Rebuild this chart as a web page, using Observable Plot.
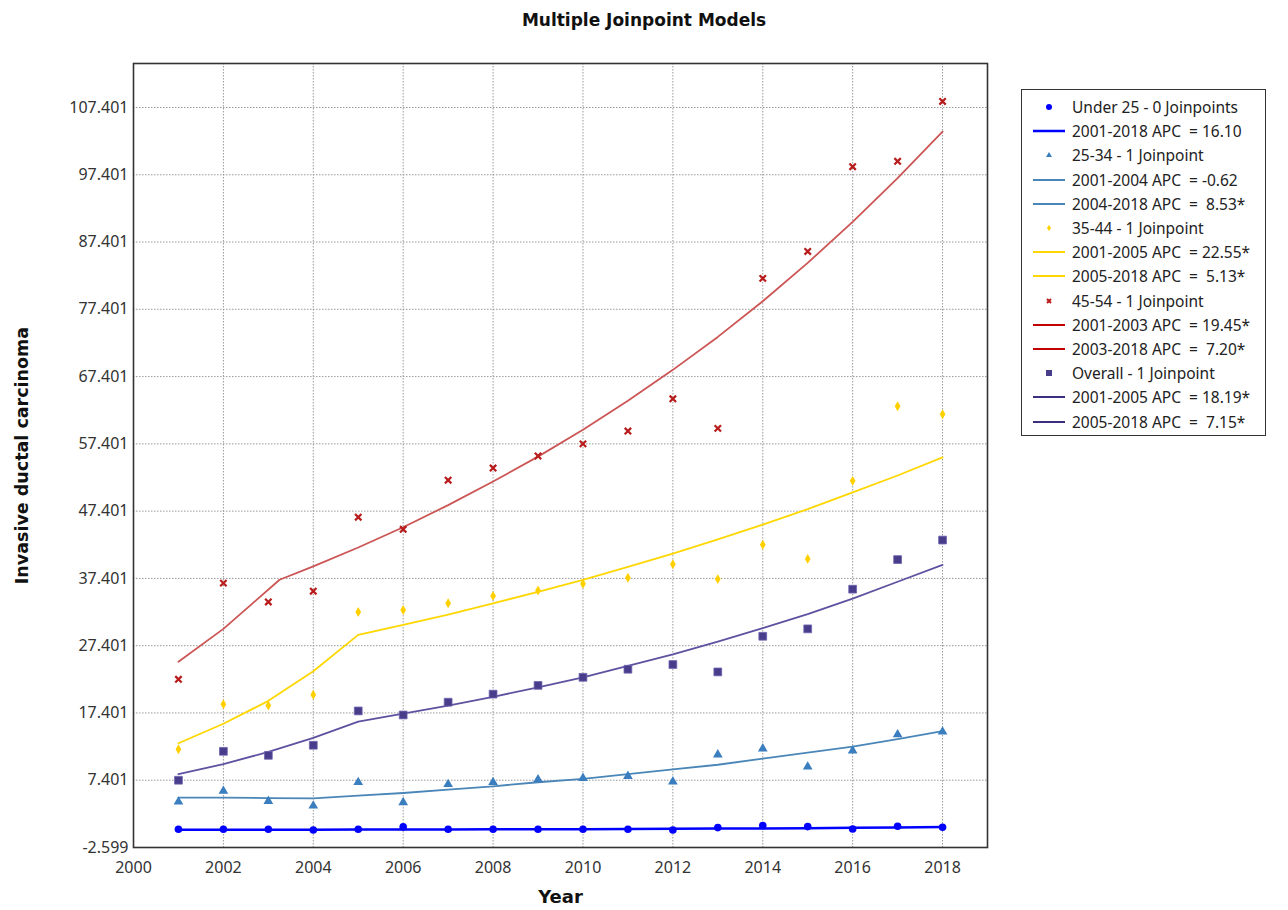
<!DOCTYPE html>
<html>
<head>
<meta charset="utf-8">
<script src="https://cdn.jsdelivr.net/npm/d3@7"></script>
<script src="https://cdn.jsdelivr.net/npm/@observablehq/plot@0.6"></script>
<style>
  body { margin: 0; background: #fff; }
  #wrap { position: relative; width: 1288px; height: 910px; }
  #title { position: absolute; left: 0; top: 9px; width: 1288px; text-align: center;
           font-family: "DejaVu Sans"; font-weight: bold; font-size: 17px; line-height: 22px; color: #111; }
  #legend { position: absolute; left: 1021px; top: 89px; width: 245px; height: 347px;
            border: 1.5px solid #333; box-sizing: border-box; padding-top: 5px;
            font-family: "Noto Sans"; font-size: 15.5px; color: #222; background: #fff; }
  .row { height: 24.2px; display: flex; align-items: center; white-space: pre; }
  .row svg { margin-left: 11px; margin-right: 7px; flex: none; }
</style>
</head>
<body>
<div id="wrap">
  <div id="chart"></div>
  <div id="title">Multiple Joinpoint Models</div>
  <div id="legend"></div>
</div>
<script>
// ---- data ----
const years = [2001,2002,2003,2004,2005,2006,2007,2008,2009,2010,2011,2012,2013,2014,2015,2016,2017,2018];
const xTicks = [2000,2002,2004,2006,2008,2010,2012,2014,2016,2018];
const yTicks = [-2.599,7.401,17.401,27.401,37.401,47.401,57.401,67.401,77.401,87.401,97.401,107.401];

// observed rates
const under25 = [0.12,0.12,0.12,0.01,0.12,0.46,0.12,0.12,0.12,0.12,0.12,0.01,0.36,0.66,0.51,0.16,0.56,0.41];
const age25_34 = [4.2,5.8,4.3,3.6,7.1,4.1,6.8,7.1,7.5,7.7,8.0,7.2,11.2,12.1,9.4,11.8,14.2,14.6];
const age35_44 = [12.0,18.7,18.5,20.1,32.4,32.7,33.7,34.8,35.6,36.6,37.5,39.5,37.3,42.4,40.3,51.9,63.0,61.8];
const age45_54 = [22.4,36.7,33.9,35.5,46.5,44.7,52.0,53.8,55.6,57.4,59.3,64.1,59.7,82.0,86.0,98.6,99.4,108.3];
const overall = [7.4,11.7,11.1,12.6,17.7,17.1,19.0,20.2,21.5,22.7,23.9,24.6,23.5,28.8,29.9,35.8,40.2,43.1];

// fitted (modeled) values
const fitUnder25 = [0.03,0.04,0.05,0.05,0.06,0.07,0.09,0.1,0.12,0.13,0.16,0.18,0.21,0.24,0.28,0.33,0.38,0.44];
const fit25_34 = [4.8,4.8,4.75,4.7,5.1,5.5,6.0,6.5,7.1,7.6,8.3,9.0,9.7,10.6,11.5,12.4,13.5,14.7];
const fit35_44 = [12.9,15.8,19.2,23.6,29.0,30.5,32.0,33.7,35.4,37.2,39.1,41.1,43.2,45.4,47.7,50.2,52.7,55.4];
const fitYears45_54 = [2001,2002,2003.25,2004,2005,2006,2007,2008,2009,2010,2011,2012,2013,2014,2015,2016,2017,2018];
const fit45_54 = [25.0,29.9,37.2,39.2,42.0,45.0,48.3,51.8,55.5,59.5,63.8,68.4,73.3,78.6,84.3,90.4,96.9,103.8];
const fitOverall = [8.3,9.8,11.6,13.7,16.1,17.3,18.5,19.8,21.2,22.7,24.4,26.1,28.0,30.0,32.1,34.4,36.9,39.4];

const legendLabels = [
  "Under 25 - 0 Joinpoints",
  "2001-2018 APC  = 16.10",
  "25-34 - 1 Joinpoint",
  "2001-2004 APC  = -0.62",
  "2004-2018 APC  =  8.53*",
  "35-44 - 1 Joinpoint",
  "2001-2005 APC  = 22.55*",
  "2005-2018 APC  =  5.13*",
  "45-54 - 1 Joinpoint",
  "2001-2003 APC  = 19.45*",
  "2003-2018 APC  =  7.20*",
  "Overall - 1 Joinpoint",
  "2001-2005 APC  = 18.19*",
  "2005-2018 APC  =  7.15*"
];

// ---- styles ----
const C = {
  u25: {pt: "#0000ff", ln: "#0000ff"},
  a25: {pt: "#3a7ebf", ln: "#4a86b8"},
  a35: {pt: "#ffd000", ln: "#ffd700"},
  a45: {pt: "#b81c1c", ln: "#cc5555"},
  ov:  {pt: "#483d8b", ln: "#5e52a0"}
};

const pts = (vals, opts) => Plot.dot(vals, {x: (d, i) => years[i], y: d => d, ...opts});
const fit = (xs, vals, opts) => Plot.line(vals, {x: (d, i) => xs[i], y: d => d, ...opts});

const chart = Plot.plot({
  width: 1288, height: 910,
  marginLeft: 133, marginRight: 301, marginTop: 63, marginBottom: 63,
  style: {fontFamily: "Noto Sans", fontSize: "16px", color: "#333", background: "white"},
  x: {domain: [2000, 2019], ticks: xTicks, tickFormat: d => String(d), tickSize: 0, tickPadding: 14, label: null},
  y: {domain: [-2.599, 113.94], ticks: yTicks, tickFormat: d => d.toFixed(3), tickSize: 0, tickPadding: 5, label: null},
  marks: [
    Plot.gridX(xTicks, {stroke: "#999", strokeOpacity: 1, strokeDasharray: "1.5,1.5"}),
    Plot.gridY(yTicks, {stroke: "#999", strokeOpacity: 1, strokeDasharray: "1.5,1.5"}),
    fit(years, fitUnder25, {stroke: C.u25.ln, strokeWidth: 2.5}),
    fit(years, fit25_34, {stroke: C.a25.ln, strokeWidth: 1.8}),
    fit(years, fit35_44, {stroke: C.a35.ln, strokeWidth: 1.8}),
    fit(fitYears45_54, fit45_54, {stroke: C.a45.ln, strokeWidth: 1.8}),
    fit(years, fitOverall, {stroke: C.ov.ln, strokeWidth: 1.8}),
    pts(under25, {symbol: "circle", fill: C.u25.pt, r: 3.8}),
    pts(age25_34, {symbol: "triangle", fill: C.a25.pt, r: 3.6}),
    pts(age35_44, {symbol: "diamond", fill: C.a35.pt, r: 3}),
    pts(age45_54, {symbol: "times", stroke: C.a45.pt, strokeWidth: 2.2, r: 3}),
    pts(overall, {symbol: "square", fill: C.ov.pt, stroke: "#6f64b0", strokeWidth: 0.8, r: 4.4}),
    Plot.text(["Year"], {frameAnchor: "bottom", dy: 55, fontFamily: "DejaVu Sans", fontWeight: "bold", fontSize: 18, fill: "#111"}),
    Plot.text(["Invasive ductal carcinoma"], {frameAnchor: "left", textAnchor: "middle", dx: -111, rotate: -90, fontFamily: "DejaVu Sans", fontWeight: "bold", fontSize: 17.5, fill: "#111"}),
    Plot.frame({stroke: "#333", strokeWidth: 1.6})
  ]
});
document.getElementById("chart").appendChild(chart);

// ---- legend ----
const legendKinds = [
  ["circle", C.u25.pt], ["line", C.u25.ln, 2.5],
  ["triangle", C.a25.pt], ["line", C.a25.ln, 2], ["line", C.a25.ln, 2],
  ["diamond", C.a35.pt], ["line", C.a35.ln, 2], ["line", C.a35.ln, 2],
  ["times", C.a45.pt], ["line", "#c00000", 2], ["line", "#c00000", 2],
  ["square", C.ov.pt], ["line", "#3b2f80", 2], ["line", "#3b2f80", 2]
];
const legend = document.getElementById("legend");
legendLabels.forEach((lab, i) => {
  const [kind, color, w] = legendKinds[i];
  const row = document.createElement("div");
  row.className = "row";
  let sym = "";
  if (kind === "line") sym = `<line x1="0" x2="32" y1="6" y2="6" stroke="${color}" stroke-width="${w}"/>`;
  else if (kind === "circle") sym = `<circle cx="16" cy="6" r="3" fill="${color}"/>`;
  else if (kind === "triangle") sym = `<path d="M16,3 L19,8 L13,8 Z" fill="${color}"/>`;
  else if (kind === "diamond") sym = `<path d="M16,3 L18,6 L16,9 L14,6 Z" fill="${color}"/>`;
  else if (kind === "times") sym = `<path d="M14,4 L18,8 M18,4 L14,8" stroke="${color}" stroke-width="2"/>`;
  else if (kind === "square") sym = `<rect x="13" y="3" width="6" height="6" fill="${color}"/>`;
  row.innerHTML = `<svg width="32" height="12">${sym}</svg><span>${lab}</span>`;
  legend.appendChild(row);
});
</script>
</body>
</html>
